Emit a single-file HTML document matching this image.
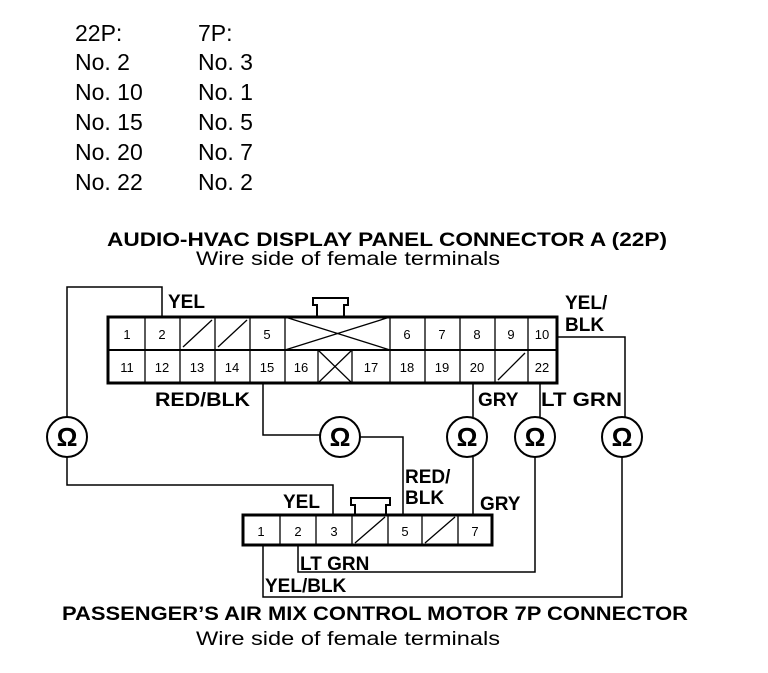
<!DOCTYPE html>
<html><head><meta charset="utf-8"><style>
body{margin:0;background:#fff;}
svg text{font-family:"Liberation Sans",Arial,sans-serif;fill:#000;}
.b{font-weight:bold;font-size:19px;}
.n{font-size:13px;}
</style></head><body>
<svg width="768" height="668" viewBox="0 0 768 668" xmlns="http://www.w3.org/2000/svg">
<g font-size="23">
<text x="75" y="41">22P:</text><text x="198" y="41">7P:</text>
<text x="75" y="70">No. 2</text><text x="198" y="70">No. 3</text>
<text x="75" y="100">No. 10</text><text x="198" y="100">No. 1</text>
<text x="75" y="130">No. 15</text><text x="198" y="130">No. 5</text>
<text x="75" y="160">No. 20</text><text x="198" y="160">No. 7</text>
<text x="75" y="190">No. 22</text><text x="198" y="190">No. 2</text>
</g>
<text x="107" y="246" class="b" textLength="560" lengthAdjust="spacingAndGlyphs">AUDIO-HVAC DISPLAY PANEL CONNECTOR A (22P)</text>
<text x="196" y="265" font-size="19" textLength="304" lengthAdjust="spacingAndGlyphs">Wire side of female terminals</text>

<g fill="none" stroke="#000" stroke-width="2">
<rect x="108" y="317" width="449" height="66" stroke-width="3"/>
<line x1="108" y1="350" x2="557" y2="350"/>
<path d="M317 317 V305 H313 V298 H348 V305 H344 V317"/>
<g stroke-width="1.3">
<line x1="145" y1="317" x2="145" y2="383"/><line x1="180" y1="317" x2="180" y2="383"/>
<line x1="215" y1="317" x2="215" y2="383"/><line x1="250" y1="317" x2="250" y2="383"/>
<line x1="285" y1="317" x2="285" y2="383"/><line x1="390" y1="317" x2="390" y2="383"/>
<line x1="425" y1="317" x2="425" y2="383"/><line x1="460" y1="317" x2="460" y2="383"/>
<line x1="495" y1="317" x2="495" y2="383"/><line x1="528" y1="317" x2="528" y2="383"/>
<line x1="318" y1="350" x2="318" y2="383"/><line x1="352" y1="350" x2="352" y2="383"/>
<line x1="183" y1="347" x2="212" y2="320"/><line x1="218" y1="347" x2="247" y2="320"/>
<line x1="285" y1="317" x2="390" y2="350"/><line x1="285" y1="350" x2="390" y2="317"/>
<line x1="318" y1="350" x2="352" y2="383"/><line x1="318" y1="383" x2="352" y2="350"/>
<line x1="498" y1="380" x2="525" y2="353"/>
</g>
<rect x="243" y="515" width="249" height="30" stroke-width="3"/>
<path d="M355 515 V505 H351 V498 H390 V505 H386 V515"/>
<g stroke-width="1.3">
<line x1="280" y1="515" x2="280" y2="545"/><line x1="316" y1="515" x2="316" y2="545"/>
<line x1="352" y1="515" x2="352" y2="545"/><line x1="388" y1="515" x2="388" y2="545"/>
<line x1="422" y1="515" x2="422" y2="545"/><line x1="458" y1="515" x2="458" y2="545"/>
<line x1="355" y1="543" x2="385" y2="517"/><line x1="425" y1="543" x2="455" y2="517"/>
</g>
<g stroke-width="1.5">
<path d="M162 317 V287 H67 V417 M67 457 V485 H333 V515"/>
<path d="M263 383 V435 H320 M360 437 H403 V515"/>
<path d="M473 383 V417 M473 457 V515"/>
<path d="M540 383 V417 M535 457 V572 H298 V545"/>
<path d="M557 337 H625 V417 M622 457 V597 H263 V545"/>
</g>
<g stroke-width="2">
<circle cx="67" cy="437" r="20"/><circle cx="340" cy="437" r="20"/>
<circle cx="467" cy="437" r="20"/><circle cx="535" cy="437" r="20"/>
<circle cx="622" cy="437" r="20"/>
</g>
</g>
<g font-size="26" text-anchor="middle" font-weight="bold">
<text x="67" y="446">Ω</text><text x="340" y="446">Ω</text><text x="467" y="446">Ω</text><text x="535" y="446">Ω</text><text x="622" y="446">Ω</text>
</g>
<g class="n" text-anchor="middle">
<text x="127" y="339">1</text><text x="162" y="339">2</text><text x="267" y="339">5</text>
<text x="407" y="339">6</text><text x="442" y="339">7</text><text x="477" y="339">8</text><text x="511" y="339">9</text><text x="542" y="339">10</text>
<text x="127" y="372">11</text><text x="162" y="372">12</text><text x="197" y="372">13</text><text x="232" y="372">14</text><text x="267" y="372">15</text><text x="301" y="372">16</text><text x="371" y="372">17</text><text x="407" y="372">18</text><text x="442" y="372">19</text><text x="477" y="372">20</text><text x="542" y="372">22</text>
<text x="261" y="536">1</text><text x="298" y="536">2</text><text x="334" y="536">3</text><text x="405" y="536">5</text><text x="475" y="536">7</text>
</g>
<g class="b">
<text x="168" y="308">YEL</text>
<text x="565" y="309">YEL/</text><text x="565" y="331">BLK</text>
<text x="155" y="406" textLength="95" lengthAdjust="spacingAndGlyphs">RED/BLK</text>
<text x="478" y="406">GRY</text>
<text x="541" y="406" textLength="81" lengthAdjust="spacingAndGlyphs">LT GRN</text>
<text x="283" y="508">YEL</text>
<text x="405" y="483">RED/</text><text x="405" y="504">BLK</text>
<text x="480" y="510">GRY</text>
<text x="300" y="570">LT GRN</text>
<text x="265" y="592">YEL/BLK</text>
</g>
<text x="62" y="620" class="b" textLength="626" lengthAdjust="spacingAndGlyphs">PASSENGER’S AIR MIX CONTROL MOTOR 7P CONNECTOR</text>
<text x="196" y="645" font-size="19" textLength="304" lengthAdjust="spacingAndGlyphs">Wire side of female terminals</text>
</svg>
</body></html>
